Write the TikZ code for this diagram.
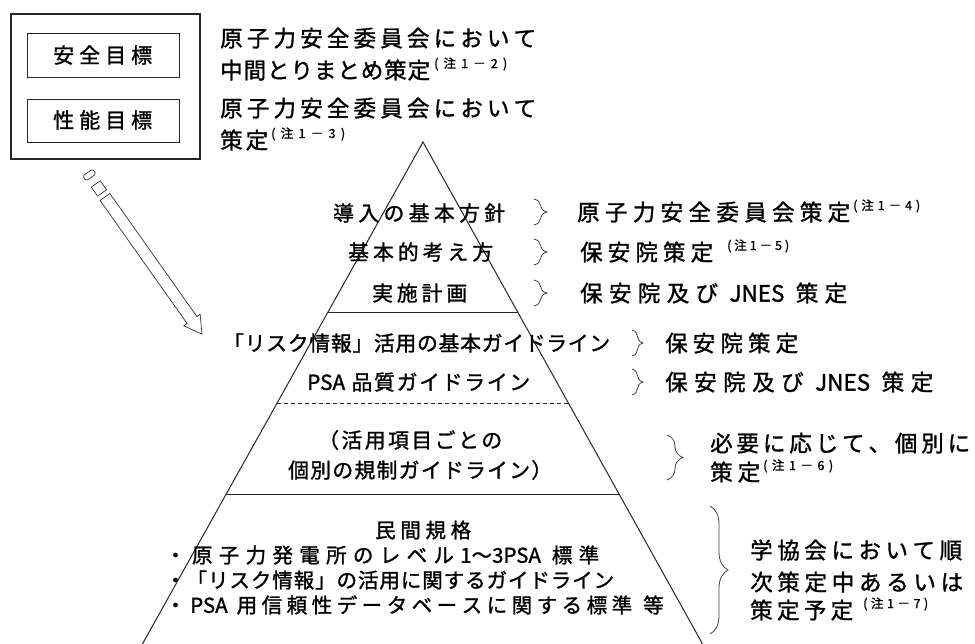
\documentclass[tikz,border=0pt]{standalone}
\usepackage{fontspec}
\newfontfamily\jp{Noto Sans CJK JP}[FakeBold=1.3]
\usetikzlibrary{decorations.pathreplacing}
\ExplSyntaxOn
\NewDocumentCommand\spr{mm}{\hbox to #1pt{\tl_map_inline:nn{#2}{##1\hfil}\unskip}}
\ExplSyntaxOff
\tikzset{
  txt/.style={inner sep=0pt, anchor=base west, text=black},
  boxt/.style={txt, font=\jp\fontsize{21}{21}\selectfont},
  lb/.style={txt, font=\jp\fontsize{22.5}{22.5}\selectfont},
  pyr/.style={txt, font=\jp\fontsize{20.8}{20.8}\selectfont},
  bt/.style={txt, font=\jp\fontsize{20.5}{20.5}\selectfont},
  sp/.style={txt, font=\jp\fontsize{12.5}{12.5}\selectfont},
  edge/.style={draw=black!85, line width=1pt},
  brc/.style={draw=black!75, line width=0.8pt, decorate, decoration={brace, amplitude=#1}},
  pen/.style={draw=black!80, line width=0.7pt, fill=white}
}
\begin{document}
\begin{tikzpicture}[x=1pt,y=-1pt]
\useasboundingbox (0,0) rectangle (975,643);
% goals box
\draw[line width=1.2pt, draw=black!85] (11,14) rectangle (200,159);
\draw[line width=1pt, draw=black!85] (27,33) rectangle (179,77);
\draw[line width=1pt, draw=black!85] (27,99) rectangle (179,142);
\node[boxt] (g1) at (53,63) {\spr{99}{安全目標}};
\node[boxt] (g2) at (53,128) {\spr{99}{性能目標}};
% top right texts
\node[lb] (a1) at (220,46.6) {\spr{316}{原子力安全委員会において}};
\node[lb] (a2) at (220,78.6) {\spr{210}{中間とりまとめ策定}};
\node[sp] (a2n) at (434,68) {\spr{73}{(注1－2)}};
\node[lb] (a3) at (220,116.6) {\spr{316}{原子力安全委員会において}};
\node[lb] (a4) at (220,148.6) {\spr{48}{策定}};
\node[sp] (a4n) at (271,138) {\spr{74}{(注1－3)}};
% pencil arrow
\begin{scope}[shift={(105,197)}, rotate=-54.74]
  \draw[pen] (0,-6) -- (150.7,-6) -- (150.7,-10) -- (168,0) -- (150.7,10) -- (150.7,6) -- (0,6) -- cycle;
  \draw[pen] (-16,-5.5) rectangle (-5,5.5);
  \draw[pen, rounded corners=1.5pt] (-30,-6) rectangle (-24,6);
\end{scope}
% pyramid
\coordinate (apex) at (423,142);
\coordinate (bl) at (141.3,646);
\coordinate (br) at (703.7,646);
\draw[edge] (bl) -- (apex) -- (br);
\coordinate (t1l) at (328,312);  \coordinate (t1r) at (517.7,312);
\coordinate (t2l) at (277.1,403); \coordinate (t2r) at (568.4,403);
\coordinate (t3l) at (226.3,494); \coordinate (t3r) at (619,494);
\draw[edge] (t1l) -- (t1r);
\draw[edge, line width=0.8pt, dash pattern=on 4pt off 3pt] (t2l) -- (t2r);
\draw[edge] (t3l) -- (t3r);
% pyramid texts
\node[pyr] (p1) at (333,220.9) {\spr{172}{導入の基本方針}};
\node[pyr] (p2) at (348,259.9) {\spr{145}{基本的考え方}};
\node[pyr] (p3) at (372,300.9) {\spr{95}{実施計画}};
\node[pyr] (p4) at (223,350.9) {\spr{387}{「リスク情報」活用の基本ガイドライン}};
\node[pyr] (p5) at (307,389.9) {\spr{223}{{PSA~}品質ガイドライン}};
\node[pyr] (p6) at (318,447.9) {\spr{184}{（活用項目ごとの}};
\node[pyr] (p7) at (288,477.9) {\spr{264}{個別の規制ガイドライン）}};
\node[bt] (b0) at (375,537.8) {\spr{96}{民間規格}};
\node[bt] (b1) at (165,562.8) {\spr{434}{・原子力発電所のレベル{1～3PSA~}標準}};
\node[bt] (b2) at (165,587.8) {\spr{449}{・「リスク情報」の活用に関するガイドライン}};
\node[bt] (b3) at (165,612.8) {\spr{467}{・{PSA~}用信頼性データベースに関する標準}};
\node[bt] (b3e) at (643,612.8) {等};
% braces
\draw[brc=13pt] (534,199) -- (534,225);
\draw[brc=13pt] (534,239) -- (534,265);
\draw[brc=13pt] (534,280) -- (534,306);
\draw[brc=11pt] (632,330) -- (632,356);
\draw[brc=11pt] (632,369) -- (632,395);
\draw[brc=16pt] (667,435) -- (667,480);
\draw[brc=18pt] (710,506) -- (710,634);
% right labels
\node[lb] (r1) at (577,220.6) {\spr{273}{原子力安全委員会策定}};
\node[sp] (r1n) at (853,210) {\spr{67}{(注1－4)}};
\node[lb] (r2) at (580,260.6) {\spr{133}{保安院策定}};
\node[sp] (r2n) at (727,250) {\spr{62}{(注1－5)}};
\node[lb] (r3) at (580,301.6) {\spr{267}{保安院及び{~JNES~}策定}};
\node[lb] (r4) at (665,351.6) {\spr{133}{保安院策定}};
\node[lb] (r5) at (665,390.6) {\spr{268}{保安院及び{~JNES~}策定}};
\node[lb] (r6) at (710,451.6) {\spr{260}{必要に応じて、個別に}};
\node[lb] (r6b) at (710,480.6) {\spr{50}{策定}};
\node[sp] (r6n) at (763,470) {\spr{70}{(注1－6)}};
\node[lb] (r7) at (750,558.6) {\spr{212}{学協会において順}};
\node[lb] (r7b) at (750,590.6) {\spr{213}{次策定中あるいは}};
\node[lb] (r7c) at (750,618.6) {\spr{103}{策定予定}};
\node[sp] (r7n) at (863,608) {\spr{65}{(注1－7)}};
\end{tikzpicture}
\end{document}
